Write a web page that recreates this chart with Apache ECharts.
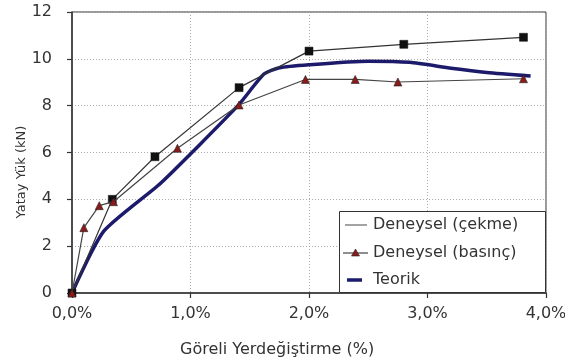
<!DOCTYPE html>
<html>
<head>
<meta charset="utf-8">
<script src="https://cdn.jsdelivr.net/npm/echarts@6/dist/echarts.min.js"></script>
<style>html,body{margin:0;padding:0;background:#fff}#c{width:565px;height:364px}</style>
</head>
<body>
<div id="c"></div>
<script>
// Data (x in %, y in kN)
var seriesNames = ['Deneysel (çekme)', 'Deneysel (basınç)', 'Teorik'];
var cekmeX = [0, 0.34, 0.70, 1.41, 2.00, 2.80, 3.81];
var cekmeY = [0, 4.00, 5.82, 8.77, 10.33, 10.62, 10.92];
var basincX = [0, 0.10, 0.23, 0.35, 0.89, 1.41, 1.97, 2.39, 2.75, 3.81];
var basincY = [0, 2.79, 3.73, 3.90, 6.18, 8.03, 9.12, 9.12, 9.01, 9.15];
var teorikX = [0, 0.27, 0.75, 1.40, 1.62, 1.75, 2.00, 2.50, 2.85, 3.20, 3.50, 3.87];
var teorikY = [0, 2.65, 4.70, 8.00, 9.35, 9.62, 9.75, 9.90, 9.85, 9.60, 9.42, 9.27];
var xTickValues = [0, 1, 2, 3, 4];
var xTickLabels = ['0,0%', '1,0%', '2,0%', '3,0%', '4,0%'];
var yTickValues = [0, 2, 4, 6, 8, 10, 12];
var yTickLabels = ['0', '2', '4', '6', '8', '10', '12'];
var xAxisTitle = 'Göreli Yerdeğiştirme (%)';
var yAxisTitle = 'Yatay Yük (kN)';

function pairs(xs, ys) { return xs.map(function (x, i) { return [x, ys[i]]; }); }
function lab(vals, labels) { return function (v) { var i = vals.indexOf(Math.round(v * 1000) / 1000); return i >= 0 ? labels[i] : ''; }; }

var FONT = 'DejaVu Sans';
var chart = echarts.init(document.getElementById('c'), null, { renderer: 'canvas' });
chart.setOption({
  animation: false,
  backgroundColor: '#fff',
  grid: { left: 72, right: 19, top: 12, bottom: 71, show: true, borderColor: '#333', borderWidth: 1, backgroundColor: 'transparent', containLabel: false, outerBoundsMode: 'none' },
  xAxis: {
    type: 'value', min: 0, max: 4, interval: 1,
    axisLine: { lineStyle: { color: '#333', width: 1.5 } },
    axisTick: { show: true, inside: false, length: 5, lineStyle: { color: '#333', width: 1.2 } },
    axisLabel: { formatter: lab(xTickValues, xTickLabels), color: '#333', fontFamily: FONT, fontSize: 16, margin: 13, hideOverlap: false },
    splitLine: { show: true, lineStyle: { color: '#aaa', type: [1, 2], width: 1 } }
  },
  yAxis: {
    type: 'value', min: 0, max: 12, interval: 2,
    axisLine: { lineStyle: { color: '#333', width: 1.5 } },
    axisTick: { show: true, inside: false, length: 5, lineStyle: { color: '#333', width: 1.2 } },
    axisLabel: { formatter: lab(yTickValues, yTickLabels), color: '#333', fontFamily: FONT, fontSize: 16, margin: 20 },
    splitLine: { show: true, lineStyle: { color: '#aaa', type: [1, 2], width: 1 } }
  },
  series: [
    {
      name: seriesNames[0], type: 'line', data: pairs(cekmeX, cekmeY), clip: false, z: 3,
      lineStyle: { color: '#333', width: 1.2 },
      symbol: 'rect', symbolSize: 8, itemStyle: { color: '#111', borderColor: '#111', borderWidth: 0.5 }
    },
    {
      name: seriesNames[1], type: 'line', data: pairs(basincX, basincY), clip: false, z: 4,
      lineStyle: { color: '#444', width: 1.2 },
      symbol: 'triangle', symbolSize: 8, itemStyle: { color: '#8b1a1a', borderColor: '#222', borderWidth: 0.6 }
    },
    {
      name: seriesNames[2], type: 'line', data: pairs(teorikX, teorikY), clip: false, z: 2,
      smooth: 0.2, showSymbol: false, symbol: 'none',
      lineStyle: { color: '#1c1a6b', width: 3.5 }
    }
  ],
  graphic: [
    { type: 'text', left: 180, top: 342, style: { text: xAxisTitle, fill: '#333', font: '16px "' + FONT + '"' } },
    { type: 'text', x: 22, y: 172, rotation: Math.PI / 2, style: { text: yAxisTitle, fill: '#333', font: '13px "' + FONT + '"', align: 'center', verticalAlign: 'middle' } },
    { type: 'rect', z: 100, shape: { x: 339.5, y: 211.5, width: 206, height: 81 }, style: { fill: '#fff', stroke: '#333', lineWidth: 1 } },
    { type: 'line', z: 101, shape: { x1: 345, y1: 225, x2: 367, y2: 225 }, style: { stroke: '#666', lineWidth: 1.2 } },
    { type: 'text', z: 101, x: 373, y: 225, style: { text: seriesNames[0], fill: '#333', font: '16px "' + FONT + '"', verticalAlign: 'middle' } },
    { type: 'line', z: 101, shape: { x1: 343, y1: 253, x2: 368, y2: 253 }, style: { stroke: '#444', lineWidth: 1.2 } },
    { type: 'polygon', z: 102, shape: { points: [[355.5, 249], [359.5, 256], [351.5, 256]] }, style: { fill: '#8b1a1a', stroke: '#222', lineWidth: 0.6 } },
    { type: 'text', z: 101, x: 373, y: 253, style: { text: seriesNames[1], fill: '#333', font: '16px "' + FONT + '"', verticalAlign: 'middle' } },
    { type: 'line', z: 101, shape: { x1: 347, y1: 280, x2: 362, y2: 280 }, style: { stroke: '#1c1a6b', lineWidth: 3.5 } },
    { type: 'text', z: 101, x: 373, y: 280, style: { text: seriesNames[2], fill: '#333', font: '16px "' + FONT + '"', verticalAlign: 'middle' } }
  ]
});
</script>
</body>
</html>
